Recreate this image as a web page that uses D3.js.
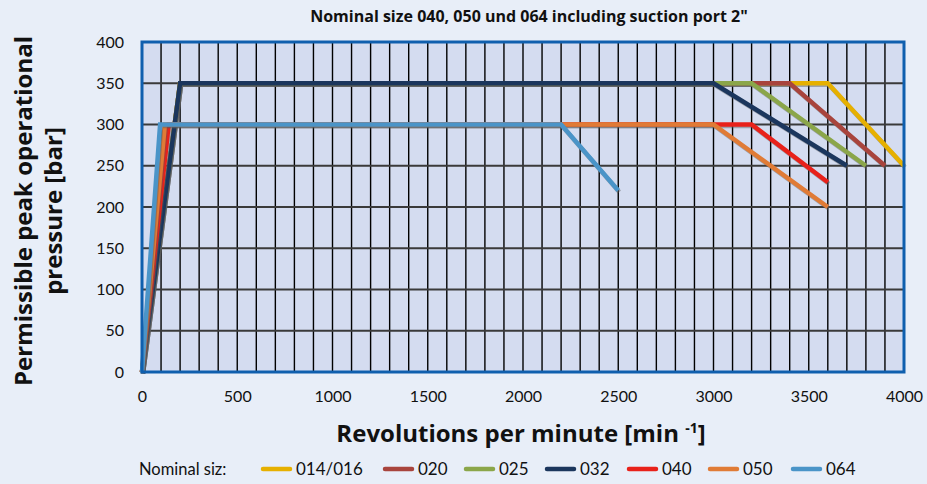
<!DOCTYPE html>
<html><head><meta charset="utf-8">
<script src="https://cdn.jsdelivr.net/npm/d3@7"></script>
<style>
html,body{margin:0;padding:0;background:#e8eef8;}
text{font-family:Lato,"Open Sans",sans-serif;}
</style></head>
<body><svg id="c" width="927" height="484"></svg>
<script>
const seriesNames = ["014/016","020","025","032","040","050","064"];
const seriesColors = ["#e6b000","#a8443d","#8ba64a","#1b365d","#e8211a","#e07b36","#4a94c8"];
const rpm_014 = [0,200,3600,4000];   const bar_014 = [0,350,350,250];
const rpm_020 = [0,200,3400,3900];   const bar_020 = [0,350,350,250];
const rpm_025 = [0,200,3200,3800];   const bar_025 = [0,350,350,250];
const rpm_032 = [0,200,3000,3700];   const bar_032 = [0,350,350,250];
const rpm_040 = [0,140,3200,3600];   const bar_040 = [0,300,300,230];
const rpm_050 = [0,120,3000,3600];   const bar_050 = [0,300,300,200];
const rpm_064 = [0,95,2200,2500];    const bar_064 = [0,300,300,220];
const xTicks = [0,500,1000,1500,2000,2500,3000,3500,4000];
const yTicks = [0,50,100,150,200,250,300,350,400];
const title = 'Nominal size 040, 050 und 064 including suction port 2"';

const rpms = [rpm_014,rpm_020,rpm_025,rpm_032,rpm_040,rpm_050,rpm_064];
const bars = [bar_014,bar_020,bar_025,bar_032,bar_040,bar_050,bar_064];

const svg = d3.select("#c");
const L=142, R=904, T=42, B=372;
const x = d3.scaleLinear().domain([0,4000]).range([L,R]);
const y = d3.scaleLinear().domain([0,400]).range([B,T]);

svg.append("rect").attr("x",L).attr("y",T).attr("width",R-L).attr("height",B-T).attr("fill","#d4dcf0");

const vg = d3.range(100,4000,100);
svg.append("g").selectAll("line").data(vg).join("line")
  .attr("x1",d=>x(d)).attr("x2",d=>x(d)).attr("y1",T).attr("y2",B)
  .attr("stroke","#000").attr("stroke-width",1.4);
svg.append("g").selectAll("line").data(yTicks.slice(1,-1)).join("line")
  .attr("x1",L).attr("x2",R).attr("y1",d=>y(d)).attr("y2",d=>y(d))
  .attr("stroke","#3a3a3a").attr("stroke-width",1.8);

const line = d3.line().x(d=>x(d[0])).y(d=>y(d[1]));
seriesNames.forEach((n,i)=>{
  const pts = rpms[i].map((r,j)=>[r,bars[i][j]]);
  svg.append("path").attr("d",line(pts)).attr("fill","none")
    .attr("stroke","rgba(90,90,90,0.45)").attr("stroke-width",4.5)
    .attr("transform","translate(1,1.5)").attr("stroke-linejoin","round");
  svg.append("path").attr("d",line(pts)).attr("fill","none")
    .attr("stroke",seriesColors[i]).attr("stroke-width",4.5).attr("stroke-linejoin","miter");
});

svg.append("rect").attr("x",L).attr("y",T).attr("width",R-L).attr("height",B-T)
  .attr("fill","none").attr("stroke","#0f5fae").attr("stroke-width",3);

const fmt = d3.format("d");
const xa = svg.append("g").attr("transform",`translate(0,${B})`)
  .call(d3.axisBottom(x).tickValues(xTicks).tickFormat(fmt).tickSize(0).tickPadding(19));
xa.select(".domain").remove();
xa.selectAll("text").attr("font-size",16).attr("fill","#111").style("font-family","Lato,'Open Sans',sans-serif");
const ya = svg.append("g").attr("transform",`translate(${L},0)`)
  .call(d3.axisLeft(y).tickValues(yTicks).tickFormat(fmt).tickSize(0).tickPadding(18));
ya.select(".domain").remove();
ya.selectAll("text").attr("font-size",16).attr("fill","#111").style("font-family","Lato,'Open Sans',sans-serif");

svg.append("text").attr("x",529).attr("y",22).attr("text-anchor","middle")
  .style("font-family","'Open Sans',sans-serif")
  .attr("font-size",16).attr("font-weight","bold").attr("fill","#111").text(title);
const xt = svg.append("text").attr("x",521).attr("y",442).attr("text-anchor","middle")
  .style("font-family","'Open Sans',sans-serif")
  .attr("font-size",24).attr("font-weight","bold").attr("fill","#111");
xt.append("tspan").text("Revolutions per minute [min ");
xt.append("tspan").attr("font-size",14).attr("dy",-9).text("-1");
xt.append("tspan").attr("dy",9).text("]");
const yt = svg.append("text").attr("transform","translate(32,211) rotate(-90)")
  .style("font-family","'Open Sans',sans-serif")
  .attr("text-anchor","middle").attr("font-size",24).attr("font-weight","bold").attr("fill","#111");
yt.append("tspan").attr("x",0).attr("dy",0).text("Permissible peak operational");
yt.append("tspan").attr("x",0).attr("dy",30).text("pressure [bar]");

svg.append("text").attr("x",139).attr("y",475).attr("font-size",16.5).attr("fill","#111").text("Nominal siz:");
const lx = [263,385,466,547,629,710,793];
const lg = svg.append("g");
seriesNames.forEach((n,i)=>{
  lg.append("line").attr("x1",lx[i]).attr("x2",lx[i]+27).attr("y1",469).attr("y2",469)
    .attr("stroke",seriesColors[i]).attr("stroke-width",4.5).attr("stroke-linecap","round");
  lg.append("text").attr("x",lx[i]+33).attr("y",475).attr("font-size",17).attr("fill","#111").text(n);
});
</script></body></html>
